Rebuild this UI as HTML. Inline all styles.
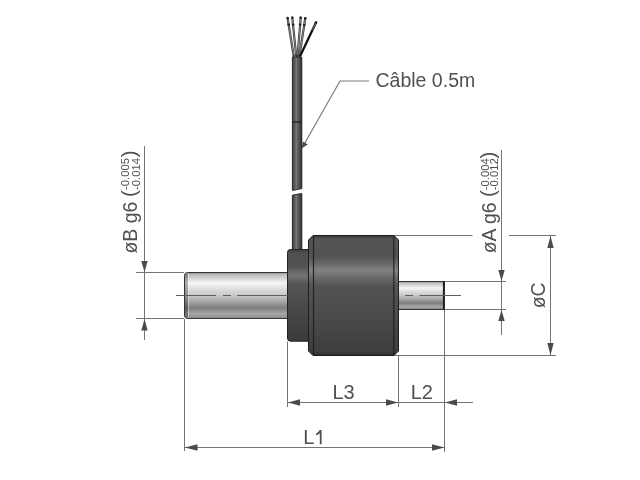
<!DOCTYPE html>
<html><head><meta charset="utf-8">
<style>
html,body{margin:0;padding:0;background:#fff;width:640px;height:480px;overflow:hidden}
svg{display:block;will-change:transform}
text{font-family:"Liberation Sans",sans-serif;fill:#505050}
</style></head><body>
<svg width="640" height="480" viewBox="0 0 640 480">
<defs>
<linearGradient id="shaft" x1="0" y1="0" x2="0" y2="1">
<stop offset="0" stop-color="#909090"/>
<stop offset="0.05" stop-color="#bdbdbd"/>
<stop offset="0.23" stop-color="#f6f6f6"/>
<stop offset="0.38" stop-color="#dadada"/>
<stop offset="0.5" stop-color="#c8c8c8"/>
<stop offset="0.62" stop-color="#aaaaaa"/>
<stop offset="0.77" stop-color="#7e7e7e"/>
<stop offset="0.9" stop-color="#a6a6a6"/>
<stop offset="1" stop-color="#8a8a8a"/>
</linearGradient>
<linearGradient id="body" x1="0" y1="0" x2="0" y2="1">
<stop offset="0" stop-color="#3a3a3a"/>
<stop offset="0.03" stop-color="#555"/>
<stop offset="0.17" stop-color="#525252"/>
<stop offset="0.23" stop-color="#666"/>
<stop offset="0.29" stop-color="#828282"/>
<stop offset="0.35" stop-color="#6a6a6a"/>
<stop offset="0.42" stop-color="#535353"/>
<stop offset="0.65" stop-color="#4b4b4b"/>
<stop offset="0.97" stop-color="#3e3e3e"/>
<stop offset="1" stop-color="#2a2a2a"/>
</linearGradient>
<linearGradient id="flange" x1="0" y1="0" x2="0" y2="1">
<stop offset="0" stop-color="#3e3e3e"/>
<stop offset="0.04" stop-color="#505050"/>
<stop offset="0.18" stop-color="#515151"/>
<stop offset="0.285" stop-color="#737373"/>
<stop offset="0.38" stop-color="#555"/>
<stop offset="0.6" stop-color="#4a4a4a"/>
<stop offset="1" stop-color="#3a3a3a"/>
</linearGradient>
<linearGradient id="cable" x1="0" y1="0" x2="1" y2="0">
<stop offset="0" stop-color="#2a2a2a"/>
<stop offset="0.12" stop-color="#4e4e4e"/>
<stop offset="0.3" stop-color="#5c5c5c"/>
<stop offset="0.4" stop-color="#848484"/>
<stop offset="0.5" stop-color="#626262"/>
<stop offset="0.8" stop-color="#4a4a4a"/>
<stop offset="1" stop-color="#222"/>
</linearGradient>
</defs>

<!-- wires -->
<g stroke-linecap="round" fill="none">
<g stroke="#3a3a3a" stroke-width="2.2">
<path d="M293.7 56 L287.6 18"/>
<path d="M296.2 56 L292.3 17.6"/>
<path d="M297.6 56 L300.7 17.6"/>
<path d="M299.4 56 L305.3 18.2"/>
</g>
<g stroke="#8e8e8e" stroke-width="0.9">
<path d="M293.5 54 L288 20"/>
<path d="M296 54 L292.5 19.6"/>
<path d="M297.8 54 L300.5 19.6"/>
<path d="M299.7 54 L305 20.2"/>
</g>
<path d="M300.4 55.5 L316 22.5" stroke="#111" stroke-width="2.3"/>
<path d="M312.6 29.6 L315.6 23.4" stroke="#7a7a7a" stroke-width="0.9"/>
</g>
<g fill="#222">
<circle cx="287.6" cy="18" r="1.2"/><circle cx="292.3" cy="17.6" r="1.2"/><circle cx="300.7" cy="17.6" r="1.2"/><circle cx="305.3" cy="18.2" r="1.2"/><circle cx="316" cy="22.5" r="1.2"/>
<circle cx="288.7" cy="24.8" r="1.3"/><circle cx="293.1" cy="24.8" r="1.3"/><circle cx="300.1" cy="24.8" r="1.3"/><circle cx="304.2" cy="25" r="1.3"/>
</g>

<!-- cable -->
<path d="M292.4 57 H301.8 V188.6 Q297 189.6 292.4 190.4 Z" fill="url(#cable)" stroke="#1e1e1e" stroke-width="0.9"/>
<path d="M292.4 195.2 Q297 194.3 301.8 193.5 V249.5 H292.4 Z" fill="url(#cable)" stroke="#1e1e1e" stroke-width="0.9"/>
<line x1="292.4" y1="122" x2="301.8" y2="122" stroke="#222" stroke-width="1.3"/>

<!-- left shaft -->
<path d="M187.5 272.5 H289 V318.5 H187.5 Q184.5 318.5 184.5 315.5 V275.5 Q184.5 272.5 187.5 272.5 Z" fill="url(#shaft)" stroke="#333" stroke-width="1"/>
<rect x="185" y="274" width="3" height="43" fill="#000" opacity="0.28"/>
<line x1="188.5" y1="273.5" x2="188.5" y2="317.5" stroke="#fff" stroke-width="1" opacity="0.45"/>

<!-- right shaft -->
<rect x="398" y="281.5" width="46.5" height="28" fill="url(#shaft)" stroke="#333" stroke-width="1"/>
<line x1="443.7" y1="282" x2="443.7" y2="309.5" stroke="#222" stroke-width="1.6"/>

<!-- flange -->
<path d="M290.5 249.5 H309 V341.2 H290.5 Q287.5 341.2 287.5 338.2 V252.5 Q287.5 249.5 290.5 249.5 Z" fill="url(#flange)" stroke="#222" stroke-width="1"/>

<!-- body -->
<path d="M313 235.5 H394 L398.5 240 V351 L394 355.5 H313 L308.5 351 V240 Z" fill="url(#body)" stroke="#1e1e1e" stroke-width="1"/>
<line x1="313.5" y1="236" x2="313.5" y2="355" stroke="#222" stroke-width="1.2"/>
<line x1="393.8" y1="236" x2="393.8" y2="355" stroke="#222" stroke-width="1.2"/>

<!-- center lines -->
<g stroke="#5e5e5e" stroke-width="1">
<line x1="176" y1="295.5" x2="216" y2="295.5"/>
<line x1="223" y1="295.5" x2="231" y2="295.5"/>
<line x1="237" y1="295.5" x2="288" y2="295.5"/>
<line x1="405" y1="295.5" x2="413" y2="295.5"/>
<line x1="419.5" y1="295.5" x2="461" y2="295.5"/>
</g>

<!-- dimension/extension lines -->
<g stroke="#747474" stroke-width="1" fill="none">
<!-- left øB -->
<line x1="136" y1="272.5" x2="184" y2="272.5"/>
<line x1="136" y1="318.5" x2="184" y2="318.5"/>
<line x1="144.5" y1="146" x2="144.5" y2="340"/>
<!-- verticals -->
<line x1="184.5" y1="319" x2="184.5" y2="451"/>
<line x1="287.5" y1="341.5" x2="287.5" y2="407"/>
<line x1="398.5" y1="356" x2="398.5" y2="407"/>
<line x1="444.5" y1="310" x2="444.5" y2="452"/>
<!-- L3/L2 line -->
<line x1="287.5" y1="402.5" x2="473" y2="402.5"/>
<!-- L1 -->
<line x1="185" y1="447.5" x2="445" y2="447.5"/>
<!-- right øA -->
<line x1="445" y1="281.5" x2="506" y2="281.5"/>
<line x1="445" y1="309.5" x2="506" y2="309.5"/>
<line x1="501.5" y1="150" x2="501.5" y2="335"/>
<!-- øC -->
<line x1="394" y1="235.5" x2="472.5" y2="235.5"/>
<line x1="509" y1="235.5" x2="556" y2="235.5"/>
<line x1="394" y1="355.5" x2="556" y2="355.5"/>
<line x1="550.5" y1="235.5" x2="550.5" y2="355.5"/>
<!-- leader -->
<polyline points="369,81 340,81 302,148" stroke="#7a7a7a" stroke-width="1.2"/>
</g>

<!-- arrows -->
<g fill="#4a4a4a">
<!-- øB -->
<path d="M144.5 272 L141.3 261 L147.7 261 Z"/>
<path d="M144.5 319 L141.3 330.6 L147.7 330.6 Z"/>
<!-- L3 -->
<path d="M288 402.5 L300 399.3 L300 405.7 Z"/>
<path d="M398 402.5 L386 399.3 L386 405.7 Z"/>
<!-- L2 right -->
<path d="M445 402.5 L457 399.3 L457 405.7 Z"/>
<!-- L1 -->
<path d="M185 447.5 L197.5 444.3 L197.5 450.7 Z"/>
<path d="M444.5 447.5 L432 444.3 L432 450.7 Z"/>
<!-- øA -->
<path d="M501.5 281 L498.3 270 L504.7 270 Z"/>
<path d="M501.5 310 L498.3 321 L504.7 321 Z"/>
<!-- øC -->
<path d="M550.5 236 L547.3 248 L553.7 248 Z"/>
<path d="M550.5 355 L547.3 343 L553.7 343 Z"/>
<!-- leader -->
<path d="M301.8 148.2 L302.8 141.6 L307.8 144.4 Z"/>
</g>

<!-- texts -->
<text x="375.5" y="87" font-size="19.5">Câble 0.5m</text>
<text x="332.4" y="399.4" font-size="20">L3</text>
<text x="410.7" y="399.4" font-size="20">L2</text>
<text x="303.3" y="444.2" font-size="20">L</text>
<path d="M319.6 430 H321.6 V444.2 H319.8 V433.3 Q318.2 434.7 316.2 435.4 V433.5 Q318.8 432.4 319.6 430 Z" fill="#505050"/>

<text transform="translate(544.8,308.3) rotate(-90)" font-size="19.5">øC</text>

<text transform="translate(137.3,253.6) rotate(-90)" font-size="19.5">øB g6</text>
<g transform="translate(137.3,253) rotate(-90)">
<text x="56" y="-1.3" font-size="20.5">(</text>
<text x="63" y="-7.9" font-size="11" textLength="32" lengthAdjust="spacingAndGlyphs">-0.005</text>
<text x="63" y="2.3" font-size="11" textLength="32" lengthAdjust="spacingAndGlyphs">-0.014</text>
<text x="95.8" y="-1.3" font-size="20.5">)</text>
</g>
<text transform="translate(496,253.3) rotate(-90)" font-size="19.5">øA g6</text>
<g transform="translate(496,253) rotate(-90)">
<text x="56" y="-1.5" font-size="20.5">(</text>
<text x="62.8" y="-7.5" font-size="11" textLength="32" lengthAdjust="spacingAndGlyphs">-0.004</text>
<text x="62.8" y="1.5" font-size="11" textLength="32" lengthAdjust="spacingAndGlyphs">-0.012</text>
<text x="94.5" y="-1.5" font-size="20.5">)</text>
</g>
</svg>
</body></html>
